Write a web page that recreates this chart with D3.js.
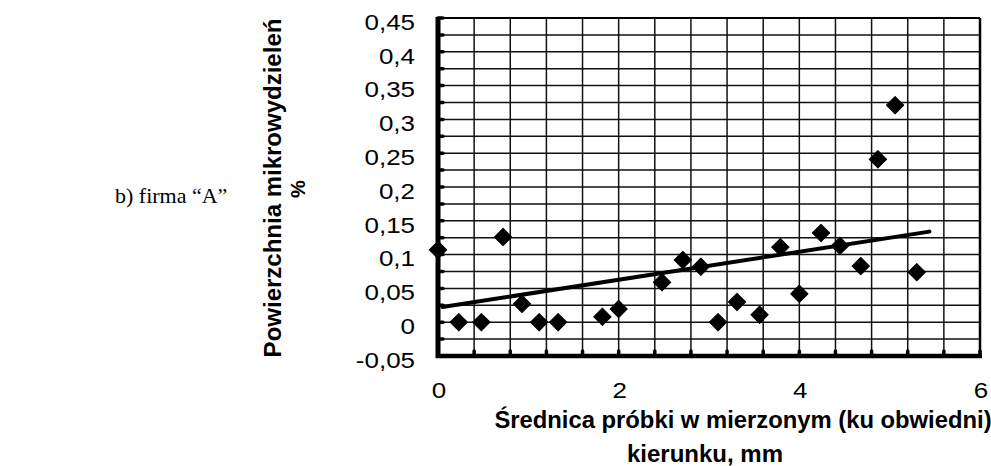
<!DOCTYPE html>
<html>
<head>
<meta charset="utf-8">
<script src="https://cdn.jsdelivr.net/npm/d3@7"></script>
<style>
  html, body { margin: 0; padding: 0; background: #fff; }
</style>
</head>
<body>
<div id="chart"></div>
<script>
// --- DATA ---
const diameters = [0, 0.23, 0.48, 0.72, 0.93, 1.12, 1.33, 1.82, 2.0, 2.48, 2.71, 2.91,
                   3.1, 3.31, 3.56, 3.79, 4.0, 4.24, 4.45, 4.68, 4.87, 5.06, 5.3];
const areas = [0.107, 0, 0, 0.126, 0.027, 0, 0, 0.008, 0.0195, 0.059, 0.092, 0.082,
               0, 0.03, 0.011, 0.111, 0.042, 0.132, 0.113, 0.083, 0.241, 0.321, 0.074];
// linear trend line, start and end
const trendX = [0.05, 5.44];
const trendY = [0.0225, 0.134];

const yTicks = [-0.05, 0, 0.05, 0.1, 0.15, 0.2, 0.25, 0.3, 0.35, 0.4, 0.45];
const xTicks = [0, 2, 4, 6];
const yGridStep = 0.025;
const xGridStep = 0.4;

const sideLabel = "b) firma \u201cA\u201d";
const yTitle = ["Powierzchnia mikrowydzieleń", "%"];
const xTitle = ["Średnica próbki w mierzonym (ku obwiedni)", "kierunku, mm"];

// --- LAYOUT ---
const WIDTH = 991, HEIGHT = 466;
const PLOT = { left: 438, right: 980, top: 18, bottom: 356 };
const STRETCH = 1.18; // the scan's lettering is a bit wide

const fmt = v => (v === 0 ? "0" : String(+v.toFixed(2)).replace(".", ","));

const svg = d3.select("#chart").append("svg")
    .attr("width", WIDTH).attr("height", HEIGHT)
    .style("font-family", "'Liberation Sans', Arial, sans-serif");

svg.append("rect").attr("width", WIDTH).attr("height", HEIGHT).attr("fill", "#fff");

const x = d3.scaleLinear().domain([0, 6]).range([PLOT.left, PLOT.right]);
const y = d3.scaleLinear().domain([-0.05, 0.45]).range([PLOT.bottom, PLOT.top]);

// grid
const yGrid = d3.range(0, 21).map(i => -0.05 + i * yGridStep);
const xGrid = d3.range(0, 16).map(i => i * xGridStep);

svg.append("g").selectAll("line").data(yGrid.slice(1, -1)).join("line")
    .attr("x1", PLOT.left).attr("x2", PLOT.right)
    .attr("y1", d => y(d)).attr("y2", d => y(d))
    .attr("stroke", "#111").attr("stroke-width", 1.5);

svg.append("g").selectAll("line").data(xGrid.slice(1, -1)).join("line")
    .attr("x1", d => x(d)).attr("x2", d => x(d))
    .attr("y1", PLOT.top).attr("y2", PLOT.bottom)
    .attr("stroke", "#111").attr("stroke-width", 1.5);

// frame: thin top/right, heavy left/bottom
svg.append("line").attr("x1", PLOT.left).attr("x2", PLOT.right)
    .attr("y1", PLOT.top).attr("y2", PLOT.top).attr("stroke", "#000").attr("stroke-width", 2.2);
svg.append("line").attr("x1", PLOT.right).attr("x2", PLOT.right)
    .attr("y1", PLOT.top).attr("y2", PLOT.bottom).attr("stroke", "#000").attr("stroke-width", 2.5);
svg.append("line").attr("x1", PLOT.left).attr("x2", PLOT.left)
    .attr("y1", PLOT.top - 1).attr("y2", PLOT.bottom + 2).attr("stroke", "#000").attr("stroke-width", 5);
svg.append("line").attr("x1", PLOT.left - 2).attr("x2", PLOT.right + 2)
    .attr("y1", PLOT.bottom).attr("y2", PLOT.bottom).attr("stroke", "#000").attr("stroke-width", 4.5);

// small tick bumps on the axes
svg.append("g").selectAll("line").data(yGrid).join("line")
    .attr("x1", PLOT.left).attr("x2", PLOT.left + 5)
    .attr("y1", d => y(d)).attr("y2", d => y(d))
    .attr("stroke", "#000").attr("stroke-width", 3.5).attr("stroke-linecap", "round");
svg.append("g").selectAll("line").data(xGrid.slice(1)).join("line")
    .attr("x1", d => x(d)).attr("x2", d => x(d))
    .attr("y1", PLOT.bottom).attr("y2", PLOT.bottom - 5)
    .attr("stroke", "#000").attr("stroke-width", 3.5).attr("stroke-linecap", "round");

// trend line
svg.append("line")
    .attr("x1", x(trendX[0])).attr("y1", y(trendY[0]))
    .attr("x2", x(trendX[1])).attr("y2", y(trendY[1]))
    .attr("stroke", "#000").attr("stroke-width", 4).attr("stroke-linecap", "round");

// diamonds
const diamond = d3.symbol().type(d3.symbolSquare).size(150);
svg.append("g").selectAll("path").data(diameters.map((d, i) => [d, areas[i]])).join("path")
    .attr("d", diamond)
    .attr("transform", d => `translate(${x(d[0])},${y(d[1])}) rotate(45)`)
    .attr("fill", "#000")
    .attr("stroke", "#000").attr("stroke-width", 1).attr("stroke-linejoin", "round");

// y tick labels
svg.append("g").selectAll("text").data(yTicks).join("text")
    .attr("transform", d => `translate(415,${y(d) + 4}) scale(${STRETCH},1)`)
    .attr("dy", "0.35em")
    .attr("text-anchor", "end")
    .attr("font-size", 22)
    .attr("fill", "#000")
    .text(fmt);

// x tick labels
svg.append("g").selectAll("text").data(xTicks).join("text")
    .attr("transform", d => `translate(${x(d) + 1},398) scale(${STRETCH},1)`)
    .attr("text-anchor", "middle")
    .attr("font-size", 22)
    .attr("fill", "#000")
    .text(d => d);

// axis titles
svg.append("text")
    .attr("transform", `translate(281, ${(PLOT.top + PLOT.bottom) / 2 + 1}) rotate(-90)`)
    .attr("text-anchor", "middle")
    .attr("font-size", 24).attr("font-weight", "bold")
    .text(yTitle[0]);
svg.append("text")
    .attr("transform", `translate(305, ${(PLOT.top + PLOT.bottom) / 2 + 2}) rotate(-90)`)
    .attr("text-anchor", "middle")
    .attr("font-size", 20).attr("font-weight", "bold")
    .text(yTitle[1]);

svg.append("text")
    .attr("x", 743).attr("y", 428)
    .attr("text-anchor", "middle")
    .attr("font-size", 23.8).attr("font-weight", "bold")
    .text(xTitle[0]);
svg.append("text")
    .attr("x", 705).attr("y", 462)
    .attr("text-anchor", "middle")
    .attr("font-size", 24).attr("font-weight", "bold")
    .text(xTitle[1]);

// left side caption (serif, like the document text)
svg.append("text")
    .attr("x", 115).attr("y", 203)
    .attr("font-family", "'Liberation Serif', 'Times New Roman', serif")
    .attr("font-size", 22)
    .text(sideLabel);
</script>
</body>
</html>
